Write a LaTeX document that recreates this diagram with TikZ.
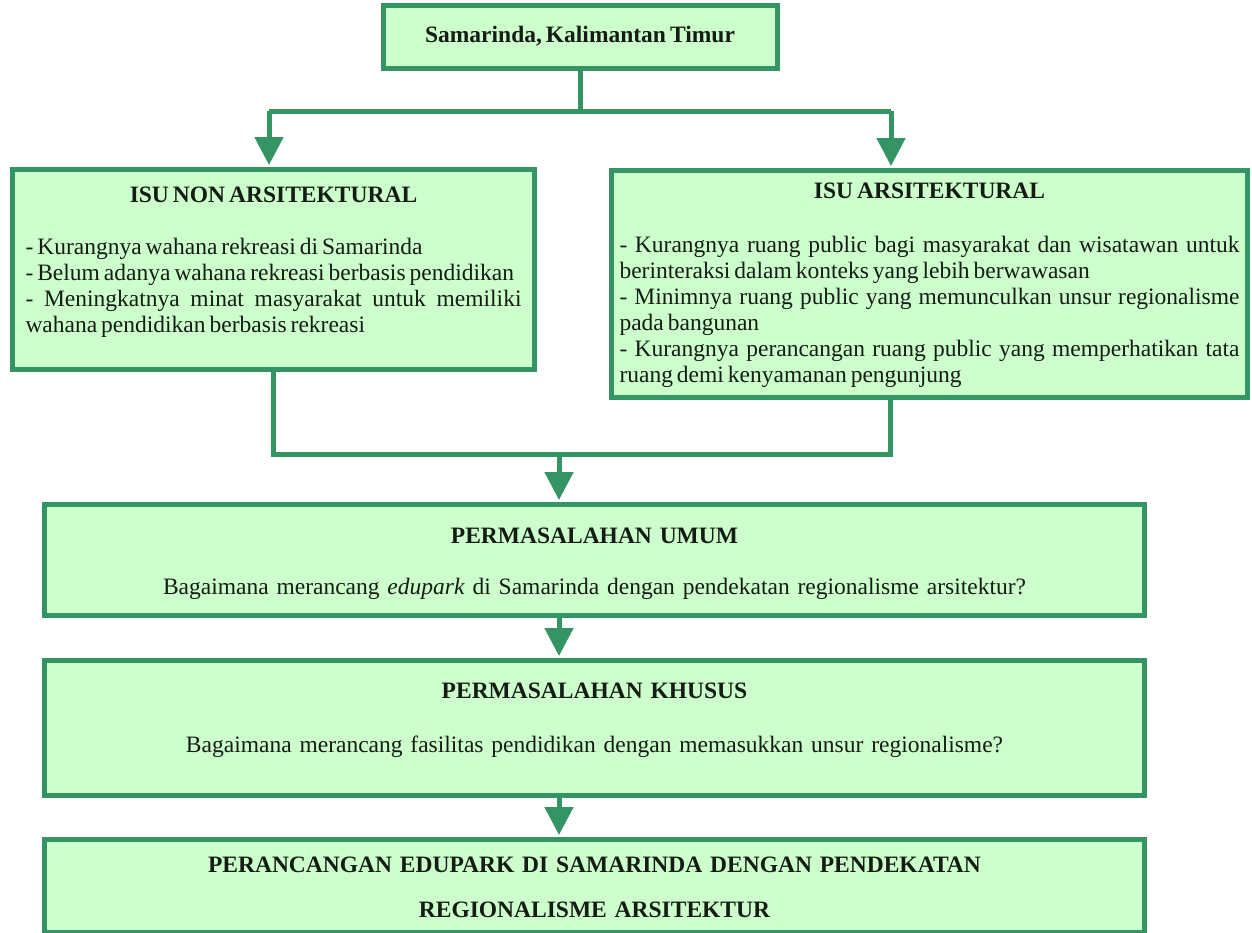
\documentclass[tikz,border=0pt]{standalone}
\usepackage{fontspec}
\setmainfont{Liberation Serif}
\usetikzlibrary{arrows.meta, positioning}
\definecolor{boxline}{RGB}{52,148,100}
\definecolor{boxfill}{RGB}{204,255,204}
\definecolor{boxtext}{RGB}{20,28,20}
\newcommand{\boxfont}{\fontsize{23.5}{26}\selectfont\spaceskip=0.17em plus 0.6em minus 0.04em\relax}
\tikzset{
    greenbox/.style={draw=boxline, fill=boxfill, line width=5pt, text=boxtext,
        font=\boxfont, inner ysep=0pt},
    link/.style={draw=boxline, line width=5pt},
    flow/.style={link, -{Triangle[width=28pt,length=28pt]}, shorten >=2pt},
}

\begin{document}
\begin{tikzpicture}[x=1pt, y=-1pt]
    \useasboundingbox (0,0) rectangle (1252,932);

    \coordinate (fork) at (580,111);
    \coordinate (forkL) at (269,111);
    \coordinate (forkR) at (891,111);
    \coordinate (merge) at (559,454);
    \coordinate (mergeR) at (890,454);

    \node[greenbox, minimum width=394pt, minimum height=63pt, font=\boxfont\bfseries]
        (kota) at (580,36.5) {Samarinda, Kalimantan Timur};

    \node[greenbox, anchor=north west, inner xsep=13pt, text width=496pt, align=justify,
        text height=33pt, text depth=167pt] (nonars) at (10,167)
        {{\centering\bfseries ISU NON ARSITEKTURAL\par}\vspace{26pt}
        - Kurangnya wahana rekreasi di Samarinda\par
        - Belum adanya wahana rekreasi berbasis pendidikan\par
        - Meningkatnya minat masyarakat untuk memiliki\linebreak
        wahana pendidikan berbasis rekreasi};

    \node[greenbox, anchor=north west, inner xsep=8pt, text width=620pt, align=justify,
        text height=28pt, text depth=199pt] (ars) at (609,168)
        {{\centering\bfseries ISU ARSITEKTURAL\par}\vspace{27.5pt}
        - Kurangnya ruang public bagi masyarakat dan wisatawan untuk\linebreak
        berinteraksi dalam konteks yang lebih berwawasan\par
        - Minimnya ruang public yang memunculkan unsur regionalisme\linebreak
        pada bangunan\par
        - Kurangnya perancangan ruang public yang memperhatikan tata\linebreak
        ruang demi kenyamanan pengunjung};

    \node[greenbox, anchor=north west, inner xsep=10pt, text width=1080pt, align=center,
        text height=38.5pt, text depth=72.5pt] (umum) at (42,502)
        {\textbf{PERMASALAHAN UMUM}\\[25.5pt]
        Bagaimana merancang \textit{edupark} di Samarinda dengan pendekatan regionalisme arsitektur?};

    \node[greenbox, anchor=north west, inner xsep=10pt, text width=1080pt, align=center,
        text height=37.5pt, text depth=97.5pt] (khusus) at (42,658)
        {\textbf{PERMASALAHAN KHUSUS}\\[28pt]
        Bagaimana merancang fasilitas pendidikan dengan memasukkan unsur regionalisme?};

    \node[greenbox, anchor=north west, inner xsep=10pt, text width=1080pt, align=center,
        text height=32.5pt, text depth=60.5pt, font=\boxfont\bfseries]
        (akhir) at (42,837)
        {PERANCANGAN EDUPARK DI SAMARINDA DENGAN PENDEKATAN\\[19pt]
        REGIONALISME ARSITEKTUR};

    % cabang ke dua isu
    \draw[link] (kota.south) -- (fork);
    \draw[link] (forkL) -- (forkR);
    \draw[flow] (forkL) -- (forkL |- nonars.north);
    \draw[flow] (forkR) -- (forkR |- ars.north);

    % gabung ke permasalahan
    \draw[link] (nonars.south) |- (mergeR) -- (mergeR |- ars.south);
    \draw[flow] (merge) -- (merge |- umum.north);
    \draw[flow] (umum.south -| merge) -- (khusus.north -| merge);
    \draw[flow] (khusus.south -| merge) -- (akhir.north -| merge);
\end{tikzpicture}
\end{document}
